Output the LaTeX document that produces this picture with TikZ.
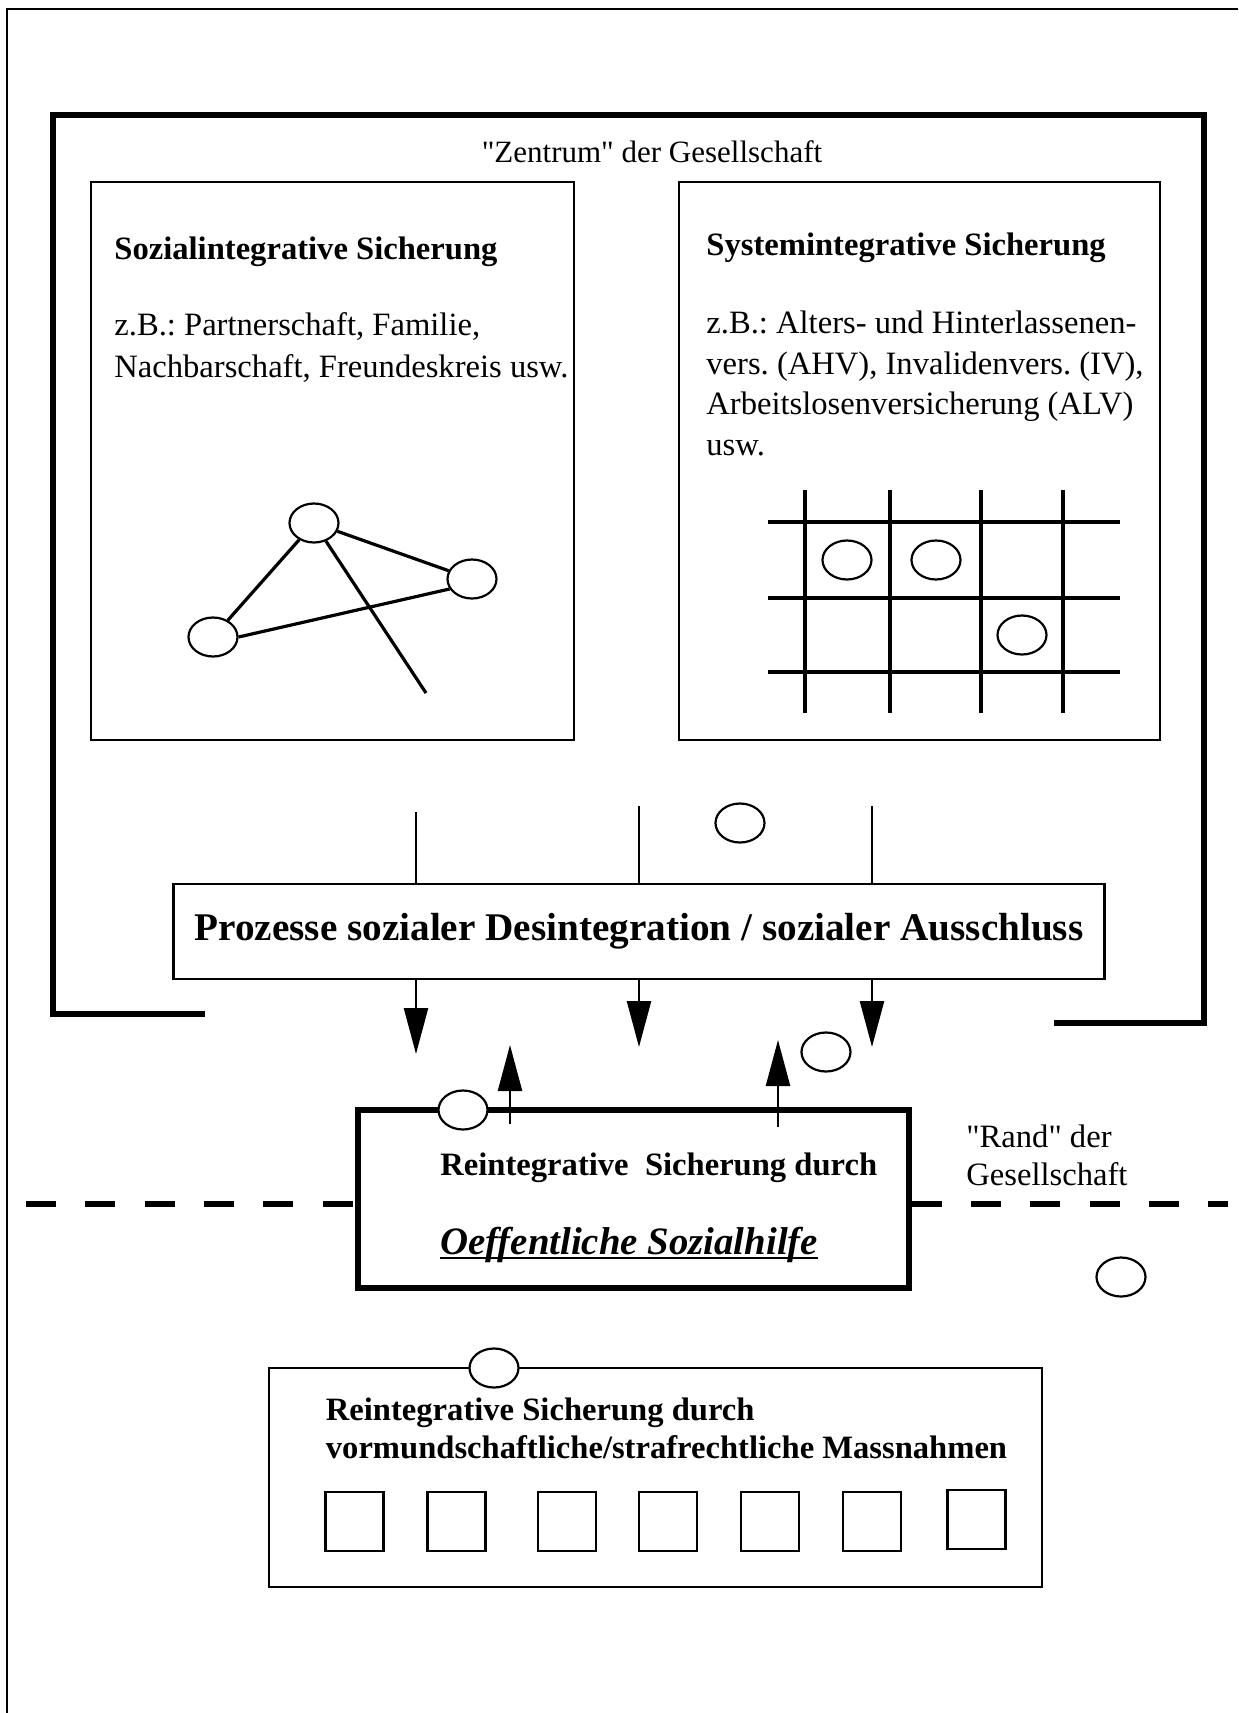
\documentclass[tikz,border=0pt]{standalone}
\usepackage{fontspec}
\setmainfont{Liberation Serif}[Ligatures=TeXOff]
\usetikzlibrary{arrows.meta,shapes.geometric}
\frenchspacing

\begin{document}
\begin{tikzpicture}[x=0.5pt,y=-0.5pt,
	txt/.style={inner sep=0pt, anchor=base west, font=\fontsize{16.3}{20}\selectfont},
	boldtxt/.style={txt, font=\fontsize{16.3}{20}\selectfont\bfseries},
	ring/.style={ellipse, draw, line width=1.1pt, fill=white, minimum width=24.5pt, minimum height=19.5pt, inner sep=0pt},
	panel/.style={rectangle, draw, line width=1.4pt, inner sep=0pt},
	cell/.style={rectangle, draw, line width=1.4pt, minimum width=29pt, minimum height=29.5pt, inner sep=0pt},
	link/.style={line width=1.6pt},
	gridline/.style={line width=1.6pt},
	flow/.style={line width=1.2pt},
	arr/.style={flow, -{Triangle[length=23pt,width=12pt]}},
	dashline/.style={line width=2.75pt, dash pattern=on 15pt off 14.65pt}]
	\useasboundingbox (0,0) rectangle (1238,1713);

	\draw[line width=0.9pt] (7,1713) -- (7,9) -- (1238,9);
	\draw[line width=3pt] (205,1014) -- (53,1014) -- (53,115) -- (1204,115) -- (1204,1023) -- (1054,1023);
	\node[anchor=base, inner sep=0pt, font=\fontsize{15.5pt}{20pt}\selectfont](zentrum) at (652,162){"Zentrum" der Gesellschaft};

	\node[panel, minimum width=241.5pt, minimum height=279pt](sozBox) at (332.5,461){};
	\node[boldtxt](sozTitle) at (114,259){Sozialintegrative Sicherung};
	\node[txt](sozLineA) at (114,335){z.B.: Partnerschaft, Familie,};
	\node[txt](sozLineB) at (114,377){Nachbarschaft, Freundeskreis usw.};

	\node[ring](netTop) at (314,523){};
	\node[ring](netRight) at (472,579){};
	\node[ring](netLeft) at (213,637){};
	\coordinate (netEnd) at (426,693);
	\draw[link] (netTop) -- (netLeft);
	\draw[link] (netTop) -- (netRight);
	\draw[link] (netLeft.east) -- (netRight.204);
	\draw[link] (netTop) -- (netEnd);

	\node[panel, minimum width=240.5pt, minimum height=279pt](sysBox) at (919.5,461){};
	\node[boldtxt](sysTitle) at (706,255){Systemintegrative Sicherung};
	\node[txt](sysLineA) at (706,333){z.B.: Alters- und Hinterlassenen-};
	\node[txt](sysLineB) at (706,374){vers. (AHV), Invalidenvers. (IV),};
	\node[txt](sysLineC) at (706,414){Arbeitslosenversicherung (ALV)};
	\node[txt](sysLineD) at (706,455){usw.};

	\draw[gridline] (805,490) -- (805,713);
	\draw[gridline] (890,490) -- (890,713);
	\draw[gridline] (981,490) -- (981,713);
	\draw[gridline] (1063,490) -- (1063,713);
	\draw[gridline] (768,522) -- (1120,522);
	\draw[gridline] (768,598) -- (1120,598);
	\draw[gridline] (768,672) -- (1120,672);
	\node[ring](gridA) at (847,560){};
	\node[ring](gridB) at (936,560){};
	\node[ring](gridC) at (1022,635){};

	\node[panel, line width=1.3pt, minimum width=465.5pt, minimum height=47.5pt, font=\fontsize{19.6}{24}\selectfont\bfseries](prozess) at (639,931.5){Prozesse sozialer Desintegration / sozialer Ausschluss};
	\node[ring](ringMid) at (740,823){};
	\coordinate (feedA) at (416,812);
	\coordinate (feedB) at (639,806);
	\coordinate (feedC) at (872,806);
	\coordinate (dropA) at (416,1054);
	\coordinate (dropB) at (639,1047);
	\coordinate (dropC) at (872,1047);
	\draw[flow] (feedA) -- (feedA |- prozess.north);
	\draw[flow] (feedB) -- (feedB |- prozess.north);
	\draw[flow] (feedC) -- (feedC |- prozess.north);
	\draw[arr] (dropA |- prozess.south) -- (dropA);
	\draw[arr] (dropB |- prozess.south) -- (dropB);
	\draw[arr] (dropC |- prozess.south) -- (dropC);

	\node[panel, line width=2.6pt, minimum width=275.5pt, minimum height=89pt](oeff) at (633.5,1199){};
	\node[boldtxt](oeffTitle) at (440,1175){Reintegrative\ \ Sicherung durch};
	\node[txt, font=\fontsize{19.4}{24}\selectfont\bfseries\itshape](oeffName) at (440,1254){Oeffentliche Sozialhilfe};
	\draw[line width=1pt] ([yshift=-2pt]oeffName.base west) -- ([yshift=-2pt]oeffName.base east);
	\coordinate (riseA) at (510,1045);
	\coordinate (riseB) at (778,1040);
	\draw[arr] ([yshift=-8.5pt]riseA |- oeff.north) -- (riseA);
	\draw[arr] ([yshift=-10pt]riseB |- oeff.north) -- (riseB);
	\node[ring](ringOeff) at (463,1110){};
	\node[ring](ringDrift) at (826,1052){};
	\node[ring](ringOut) at (1121,1277){};

	\node[txt](randA) at (966,1147){"Rand" der};
	\node[txt](randB) at (966,1185){Gesellschaft};
	\coordinate (edgeL) at (26,1204);
	\coordinate (edgeR) at (1228,1204);
	\draw[dashline] (edgeL) -- (edgeL -| oeff.west);
	\draw[dashline] (edgeR -| oeff.east) -- (edgeR);

	\node[panel, minimum width=386.5pt, minimum height=109.5pt](massBox) at (655.5,1477.5){};
	\node[ring](ringMass) at (494,1368){};
	\node[boldtxt](massLineA) at (325.5,1420){Reintegrative Sicherung durch};
	\node[boldtxt](massLineB) at (325.5,1458){vormundschaftliche/strafrechtliche Massnahmen};
	\node[cell](cellA) at (354.5,1521.5){};
	\node[cell](cellB) at (456.5,1521.5){};
	\node[cell](cellC) at (567,1521.5){};
	\node[cell](cellD) at (668,1521.5){};
	\node[cell](cellE) at (770,1521.5){};
	\node[cell](cellF) at (872,1521.5){};
	\node[cell](cellG) at (976.5,1519.5){};
\end{tikzpicture}
\end{document}
